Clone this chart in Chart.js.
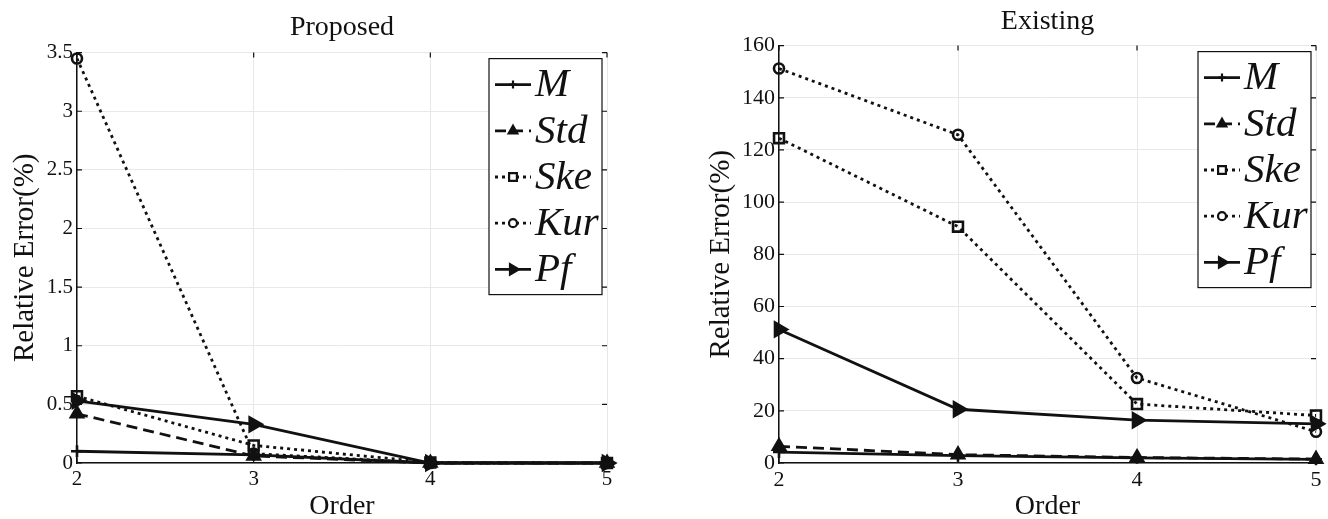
<!DOCTYPE html>
<html>
<head>
<meta charset="utf-8">
<script src="https://cdn.jsdelivr.net/npm/chart.js@4.4.0/dist/chart.umd.min.js"></script>
<style>
    body { margin: 0; background: #fff; }
    #wrap { position: relative; width: 1328px; height: 519px; }
    .panel { position: absolute; top: 0; height: 519px; }
    #left { left: 0; width: 660px; }
    #right { left: 660px; width: 668px; }
</style>
</head>
<body>
<div id="wrap">
    <div class="panel" id="left"><canvas id="proposedChart"></canvas></div>
    <div class="panel" id="right"><canvas id="existingChart"></canvas></div>
</div>
<script>
const orders = [2, 3, 4, 5];
const seriesNames = ['M', 'Std', 'Ske', 'Kur', 'Pf'];

// Proposed: relative error (%) per order
const proposedM   = [0.10, 0.07, 0, 0];
const proposedStd = [0.42, 0.06, 0, 0];
const proposedSke = [0.57, 0.15, 0.005, 0];
const proposedKur = [3.45, 0.08, 0, 0];
const proposedPf  = [0.53, 0.33, 0, 0];

// Existing: relative error (%) per order
const existingM   = [4.2, 2.8, 2.0, 1.4];
const existingStd = [6.4, 3.2, 2.1, 1.5];
const existingSke = [124.5, 90.6, 22.6, 18.2];
const existingKur = [151.2, 125.8, 32.6, 12.0];
const existingPf  = [51.2, 20.6, 16.4, 15.0];

const proposedTicks = [0, 0.5, 1, 1.5, 2, 2.5, 3, 3.5];
const existingTicks = [0, 20, 40, 60, 80, 100, 120, 140, 160];

const serif = "'Liberation Serif', 'Times New Roman', serif";
const ink = '#111';

// line / marker style for each series, same order as seriesNames
const styles = [
    { dash: [],      point: 'cross',    radius: 6, fill: ink,              rot: 0 },
    { dash: [11, 6], point: 'triangle', radius: 7, fill: ink,              rot: 0 },
    { dash: [3, 4],  point: 'rect',     radius: 7, fill: 'rgba(0,0,0,0)',  rot: 0 },
    { dash: [3, 4],  point: 'circle',   radius: 5, fill: 'rgba(0,0,0,0)',  rot: 0 },
    { dash: [],      point: 'triangle', radius: 8, fill: ink,              rot: 90 }
];

function toPoints(values) {
    return orders.map((o, i) => ({ x: o, y: values[i] }));
}

function buildDatasets(seriesList) {
    return seriesList.map((values, i) => ({
        label: seriesNames[i],
        data: toPoints(values),
        borderColor: ink,
        backgroundColor: styles[i].fill,
        borderWidth: 2.8,
        borderDash: styles[i].dash,
        pointStyle: styles[i].point,
        pointRadius: styles[i].radius,
        pointRotation: styles[i].rot,
        pointBorderWidth: 2.6,
        pointBorderColor: ink,
        pointBackgroundColor: styles[i].fill,
        clip: false,
        tension: 0
    }));
}

// MATLAB style inward ticks on all four sides of the box
const boxTicks = {
    id: 'boxTicks',
    afterDatasetsDraw(chart) {
        const { ctx, chartArea: a, scales } = chart;
        const len = 5;
        ctx.save();
        ctx.strokeStyle = ink;
        ctx.lineWidth = 1.2;
        ctx.beginPath();
        scales.y.ticks.forEach(t => {
            const y = scales.y.getPixelForValue(t.value);
            ctx.moveTo(a.left, y); ctx.lineTo(a.left + len, y);
            ctx.moveTo(a.right, y); ctx.lineTo(a.right - len, y);
        });
        scales.x.ticks.forEach(t => {
            const x = scales.x.getPixelForValue(t.value);
            ctx.moveTo(x, a.bottom); ctx.lineTo(x, a.bottom - len);
            ctx.moveTo(x, a.top); ctx.lineTo(x, a.top + len);
        });
        ctx.stroke();
        ctx.restore();
    }
};

// boxed legend in the top right corner of the plot
const boxLegend = {
    id: 'boxLegend',
    afterDraw(chart) {
        const { ctx, chartArea: a } = chart;
        const w = 113, h = 236;
        const left = a.right - 5 - w;
        const top = a.top + 6;
        ctx.save();
        ctx.fillStyle = '#fff';
        ctx.fillRect(left, top, w, h);
        ctx.strokeStyle = ink;
        ctx.lineWidth = 1.2;
        ctx.strokeRect(left, top, w, h);

        chart.data.datasets.forEach((ds, i) => {
            const y = top + 26 + i * 46.2;
            ctx.strokeStyle = ink;
            ctx.lineWidth = 2.8;
            ctx.setLineDash(ds.borderDash);
            ctx.beginPath();
            ctx.moveTo(left + 6, y);
            ctx.lineTo(left + 42, y);
            ctx.stroke();
            ctx.setLineDash([]);

            ctx.fillStyle = ds.pointStyle === 'rect' || ds.pointStyle === 'circle' ? '#fff' : ink;
            ctx.lineWidth = 2.2;
            if (Chart.helpers && Chart.helpers.drawPoint) {
                Chart.helpers.drawPoint(ctx, {
                    pointStyle: ds.pointStyle,
                    radius: ds.pointStyle === 'rect' ? 5.5 : Math.max(4, ds.pointRadius - 2),
                    rotation: ds.pointRotation,
                    borderWidth: 2.2
                }, left + 24, y);
            }

            ctx.fillStyle = ink;
            ctx.font = 'italic 41px ' + serif;
            ctx.textAlign = 'left';
            ctx.textBaseline = 'middle';
            ctx.fillText(ds.label, left + 46, y + 1);
        });
        ctx.restore();
    }
};

function makeChart(canvasId, titleText, seriesList, yTicks, cfg) {
    const ctx = document.getElementById(canvasId).getContext('2d');
    return new Chart(ctx, {
        type: 'line',
        data: { datasets: buildDatasets(seriesList) },
        options: {
            responsive: true,
            maintainAspectRatio: false,
            animation: false,
            layout: { padding: { left: cfg.padLeft, right: cfg.padRight, top: 0, bottom: 0 } },
            plugins: {
                legend: { display: false },
                tooltip: { enabled: false },
                title: {
                    display: true,
                    text: titleText,
                    fullSize: false,
                    color: ink,
                    font: { family: serif, size: 28, weight: 'normal' },
                    padding: { top: cfg.titleTop, bottom: cfg.titleBottom }
                }
            },
            scales: {
                x: {
                    type: 'linear',
                    min: 2,
                    max: 5,
                    afterFit: scale => { scale.height = 56; },
                    ticks: {
                        stepSize: 1,
                        color: ink,
                        padding: 4,
                        font: { family: serif, size: cfg.tickSize }
                    },
                    grid: { color: '#e8e8e8', drawTicks: false },
                    border: { color: ink, width: 1.5 },
                    title: {
                        display: true,
                        text: 'Order',
                        color: ink,
                        font: { family: serif, size: 28 },
                        padding: { top: 0, bottom: -4 }
                    }
                },
                y: {
                    type: 'linear',
                    min: yTicks[0],
                    max: yTicks[yTicks.length - 1],
                    afterFit: scale => { scale.width = cfg.yWidth; },
                    afterBuildTicks: scale => { scale.ticks = yTicks.map(v => ({ value: v })); },
                    ticks: {
                        color: ink,
                        padding: 4,
                        font: { family: serif, size: cfg.tickSize },
                        callback: v => String(v)
                    },
                    grid: { color: '#e8e8e8', drawTicks: false },
                    border: { color: ink, width: 1.5 },
                    title: {
                        display: true,
                        text: 'Relative Error(%)',
                        color: ink,
                        font: { family: serif, size: 29 },
                        padding: { top: 8, bottom: 0 }
                    }
                }
            }
        },
        plugins: [boxTicks, boxLegend]
    });
}

makeChart('proposedChart', 'Proposed',
    [proposedM, proposedStd, proposedSke, proposedKur, proposedPf], proposedTicks,
    { padLeft: 0, padRight: 53, yWidth: 77, titleTop: 11, titleBottom: 8, tickSize: 21 });

makeChart('existingChart', 'Existing',
    [existingM, existingStd, existingSke, existingKur, existingPf], existingTicks,
    { padLeft: 36, padRight: 12, yWidth: 83, titleTop: 5, titleBottom: 7, tickSize: 22 });
</script>
</body>
</html>
